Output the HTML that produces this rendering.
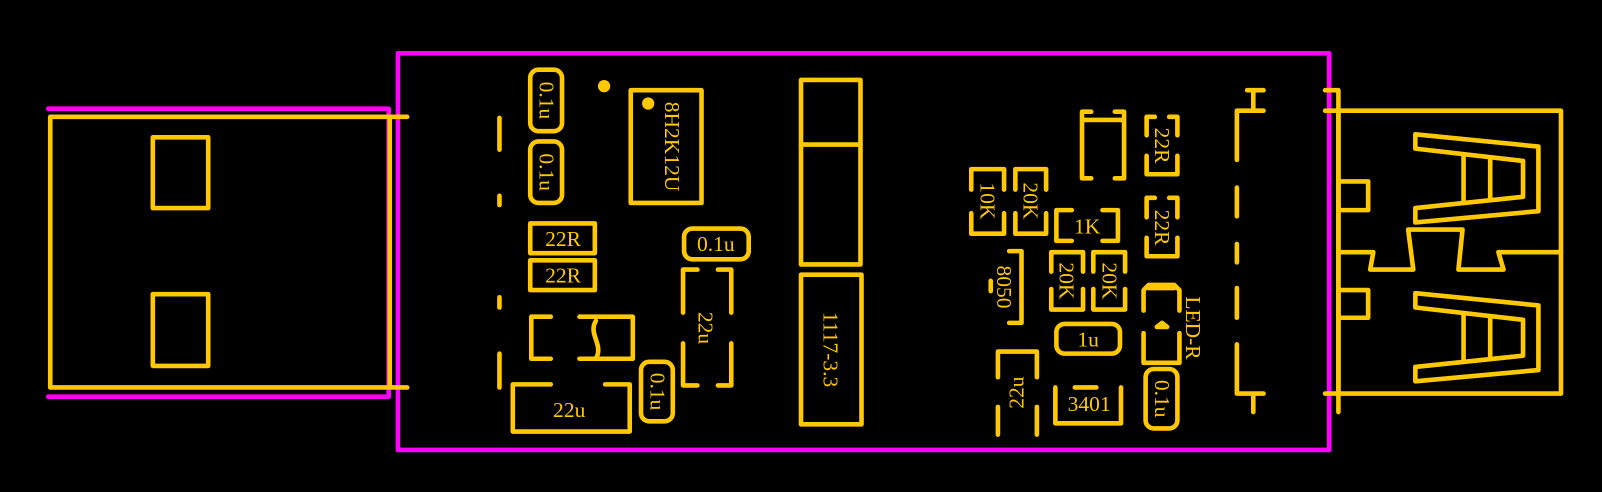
<!DOCTYPE html>
<html><head><style>
html,body{margin:0;padding:0;background:#000;}
svg{display:block;}
text{font-family:"Liberation Serif","Noto Serif CJK SC",serif;fill:#FFC800;font-size:21px;}
</style></head><body>
<svg width="1602" height="492" viewBox="0 0 1562 480" preserveAspectRatio="none" xmlns="http://www.w3.org/2000/svg">
<rect width="1562" height="480" fill="#000"/>
<g fill="none" stroke="#FF00FF" stroke-width="4.5" stroke-linecap="round" stroke-linejoin="round">
<rect x="388" y="52" width="908" height="387"/>
<polyline points="47,106 379,106 379,387 47,387"/>
</g>
<g fill="none" stroke="#FFC800" stroke-width="4.5" stroke-linecap="round" stroke-linejoin="round">
<rect x="49" y="114" width="331" height="264"/>
<line x1="380" y1="114" x2="397" y2="114"/>
<line x1="380" y1="378" x2="397" y2="378"/>
<rect x="149" y="134" width="54" height="69"/>
<rect x="149" y="287" width="54" height="70"/>
<line x1="487" y1="115" x2="487" y2="146"/>
<line x1="487" y1="191" x2="487" y2="200"/>
<line x1="487" y1="290" x2="487" y2="300"/>
<line x1="487" y1="345" x2="487" y2="378"/>
<rect x="517" y="68" width="31" height="60" rx="8"/>
<rect x="517" y="138" width="31" height="60" rx="8"/>
<rect x="615" y="88" width="69" height="110"/>
<rect x="517" y="218" width="63" height="29"/>
<rect x="517" y="254" width="63" height="29"/>
<rect x="667" y="223" width="63" height="30" rx="8"/>
<path d="M680,263 H666 V305 M666,335 V376 H680 M700,263 H713 V305 M713,335 V376 H700"/>
<path d="M537,309 H518 V350 H537 M565,309 H617 V350 H565"/>
<path d="M581,313 C573,326 589,336 581,350"/>
<path d="M537,375 H500 V421 H614 V375 H590"/>
<rect x="625" y="353" width="31" height="58" rx="8"/>
<rect x="781" y="78" width="58" height="180"/>
<line x1="781" y1="141" x2="839" y2="141"/>
<rect x="781" y="268" width="59" height="146"/>
<path d="M1064,109 H1055 V174 H1064 M1087,109 H1096 V174 H1087 M1055,117 H1096"/>
<path d="M1126,114 H1118 V132 M1118,152 V170 H1148 V152 M1148,132 V114 H1140"/>
<path d="M1126,193 H1118 V212 M1118,232 V250 H1148 V232 M1148,212 V193 H1140"/>
<path d="M947,185 V165 H979 V185 M947,208 V228 H979 V208"/>
<path d="M990,185 V165 H1020 V185 M990,208 V228 H1020 V208"/>
<path d="M1045,205 H1030 V235 H1045 M1075,205 H1090 V235 H1075"/>
<path d="M984,245 H996 V315 H984 M966,274 V284"/>
<path d="M1025,265 V246 H1056 V265 M1025,282 V302 H1056 V282"/>
<path d="M1066,265 V246 H1097 V265 M1066,282 V302 H1097 V282"/>
<path d="M1115,303 V283 L1120,278 H1145 L1150,283 V303 M1115,325 V354 H1150 V325 M1120,281 H1145"/>
<path d="M1128,319 L1133,315 L1138,319 Z" fill="#FFC800"/>
<rect x="1030" y="316" width="62" height="29" rx="8"/>
<path d="M973,368 V343 H1011 V368 M973,397 V424 M1011,397 V424"/>
<path d="M1029,378 V413 H1093 V378 M1048,378 H1069"/>
<rect x="1117" y="360" width="31" height="58" rx="8"/>
<path d="M1216,88 H1232 M1222,88 V108 M1206,108 H1232 M1206,108 V156"/>
<line x1="1206" y1="183" x2="1206" y2="211"/>
<line x1="1206" y1="238" x2="1206" y2="256"/>
<line x1="1206" y1="281" x2="1206" y2="310"/>
<path d="M1206,336 V384 H1232 M1222,384 V402"/>
<path d="M1292,88 H1305 V402 M1292,108 H1305 M1292,384 H1305"/>
<rect x="1305" y="108" width="217" height="276"/>
<rect x="1305" y="177" width="29" height="28"/>
<rect x="1305" y="283" width="29" height="27"/>
<path d="M1305,246 H1339 L1336,263 H1378 L1373,224 H1426 L1422,263 H1466 L1461,246 H1522"/>
<path d="M1380,131 L1500,143 V206 L1380,217 V203 L1485,192 V157 L1380,145 Z"/>
<line x1="1427" y1="151" x2="1427" y2="198"/>
<line x1="1453" y1="154" x2="1453" y2="195"/>
<path d="M1380,286 L1500,298 V361 L1380,372 V358 L1485,347 V312 L1380,300 Z"/>
<line x1="1427" y1="306" x2="1427" y2="353"/>
<line x1="1453" y1="309" x2="1453" y2="350"/>
</g>
<circle cx="589" cy="84" r="6" fill="#FFC800"/>
<circle cx="632" cy="101" r="6" fill="#FFC800"/>
<g dominant-baseline="central" text-anchor="middle">
<text transform="translate(533,98) rotate(90)">0.1u</text>
<text transform="translate(533,168) rotate(90)">0.1u</text>
<text transform="translate(655,143) rotate(90)" font-size="22">8H2K12U</text>
<text x="549" y="233">22R</text>
<text x="549" y="269">22R</text>
<text x="698" y="238">0.1u</text>
<text transform="translate(688,320) rotate(90)">22u</text>
<text x="555" y="400">22u</text>
<text transform="translate(641,382) rotate(90)">0.1u</text>
<text transform="translate(810,341) rotate(90)" font-size="22">1117-3.3</text>
<text transform="translate(1133,142) rotate(90)">22R</text>
<text transform="translate(1133,222) rotate(90)">22R</text>
<text transform="translate(963,196) rotate(90)">10K</text>
<text transform="translate(1005,196) rotate(90)">20K</text>
<text x="1060" y="221">1K</text>
<text transform="translate(979,280) rotate(90)">8050</text>
<text transform="translate(1040,274) rotate(90)">20K</text>
<text transform="translate(1082,274) rotate(90)">20K</text>
<text transform="translate(1163,320) rotate(90)">LED-R</text>
<text x="1061" y="331">1u</text>
<text transform="translate(991,383) rotate(-90)">22u</text>
<text x="1062" y="394">3401</text>
<text transform="translate(1133,389) rotate(90)">0.1u</text>
</g>
</svg>
</body></html>
